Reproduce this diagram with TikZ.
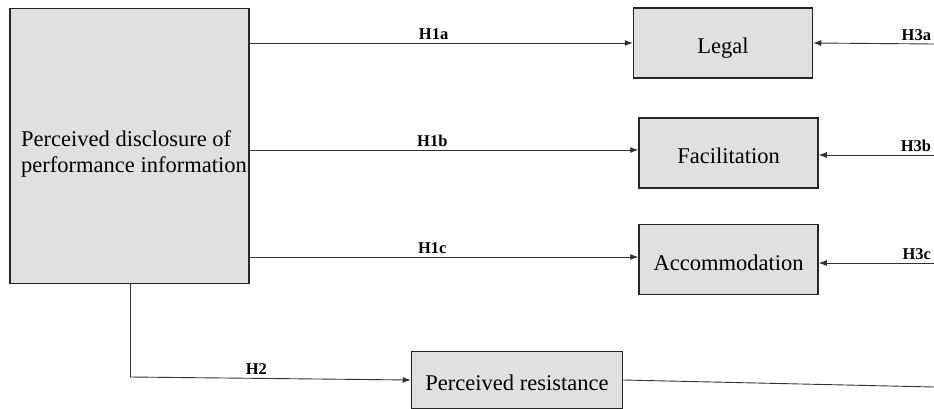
\documentclass[tikz,border=0pt]{standalone}
\usepackage{fontspec}
\setmainfont{Liberation Serif}
\usetikzlibrary{arrows.meta}

\definecolor{boxGray}{RGB}{224,224,224}
\definecolor{lineGray}{RGB}{50,50,50}

\begin{document}
\begin{tikzpicture}[x=1pt,y=-1pt]
		\useasboundingbox (0,0) rectangle (934,409);
		\begin{scope}
			[
				styleBox/.style={
					draw=black!85, line width=1.5pt, fill=boxGray,
					inner sep=0pt, font=\fontsize{22.5}{26}\selectfont,
					text height=21pt, text depth=0pt
					},
				styleBig/.style={draw=black!85, line width=1.5pt, fill=boxGray, minimum width=239pt, minimum height=275pt},
				styleSmall/.style={styleBox, minimum width=179pt, minimum height=70pt},
				styleText/.style={align=left, inner sep=0pt, font=\fontsize{22.5}{26}\selectfont},
			]
			\node(disc)[styleBig] at (129.5,146) {};
			\node(discText)[styleText] at (134,154) {Perceived disclosure of\\performance information};

			\node(legal)[styleSmall] at (723,43) {Legal};
			\node(fac)[styleSmall] at (728.5,153) {Facilitation};
			\node(acc)[styleSmall] at (728.5,259.5) {Accommodation};

			\node(res)[styleBox, minimum width=211pt, minimum height=57pt] at (517,380) {Perceived resistance};

			\coordinate(h3a) at (934,44);
			\coordinate(h3b) at (934,155);
			\coordinate(h3c) at (934,263);
			\coordinate(bend) at (130,377);
			\coordinate(out) at (934,387);
		\end{scope}

		\begin{scope}
			[ hyp/.style = {-{Latex[length=8pt,width=6pt]}},
				every edge/.style={draw=lineGray, line width=0.9pt},
				every node/.style={font=\bfseries\fontsize{16.5}{18}\selectfont, inner sep=3pt}]
			\path
			(disc.east |- legal.west) edge[hyp]      node[above, pos=0.48]{H1a}(legal.west)
			(disc.east |- 0,150) edge[hyp]           node[above, pos=0.47]{H1b}(0,150 -| fac.west)
			(disc.east |- 0,257) edge[hyp]           node[above, pos=0.47]{H1c}(0,257 -| acc.west)

			(h3a) edge[hyp]       node[above left, pos=0, inner sep=2.5pt]{H3a}(legal.east)
			(h3b) edge[hyp]       node[above left, pos=0, inner sep=2.5pt]{H3b}(h3b -| fac.east)
			(h3c) edge[hyp]       node[above left, pos=0, inner sep=2.5pt]{H3c}(h3c -| acc.east)

			(disc.south -| bend) edge (bend)
			(bend) edge[hyp]      node[above, pos=0.45]{H2}(res.west)
			(res.east) edge (out);
		\end{scope}
	\end{tikzpicture}
\end{document}
